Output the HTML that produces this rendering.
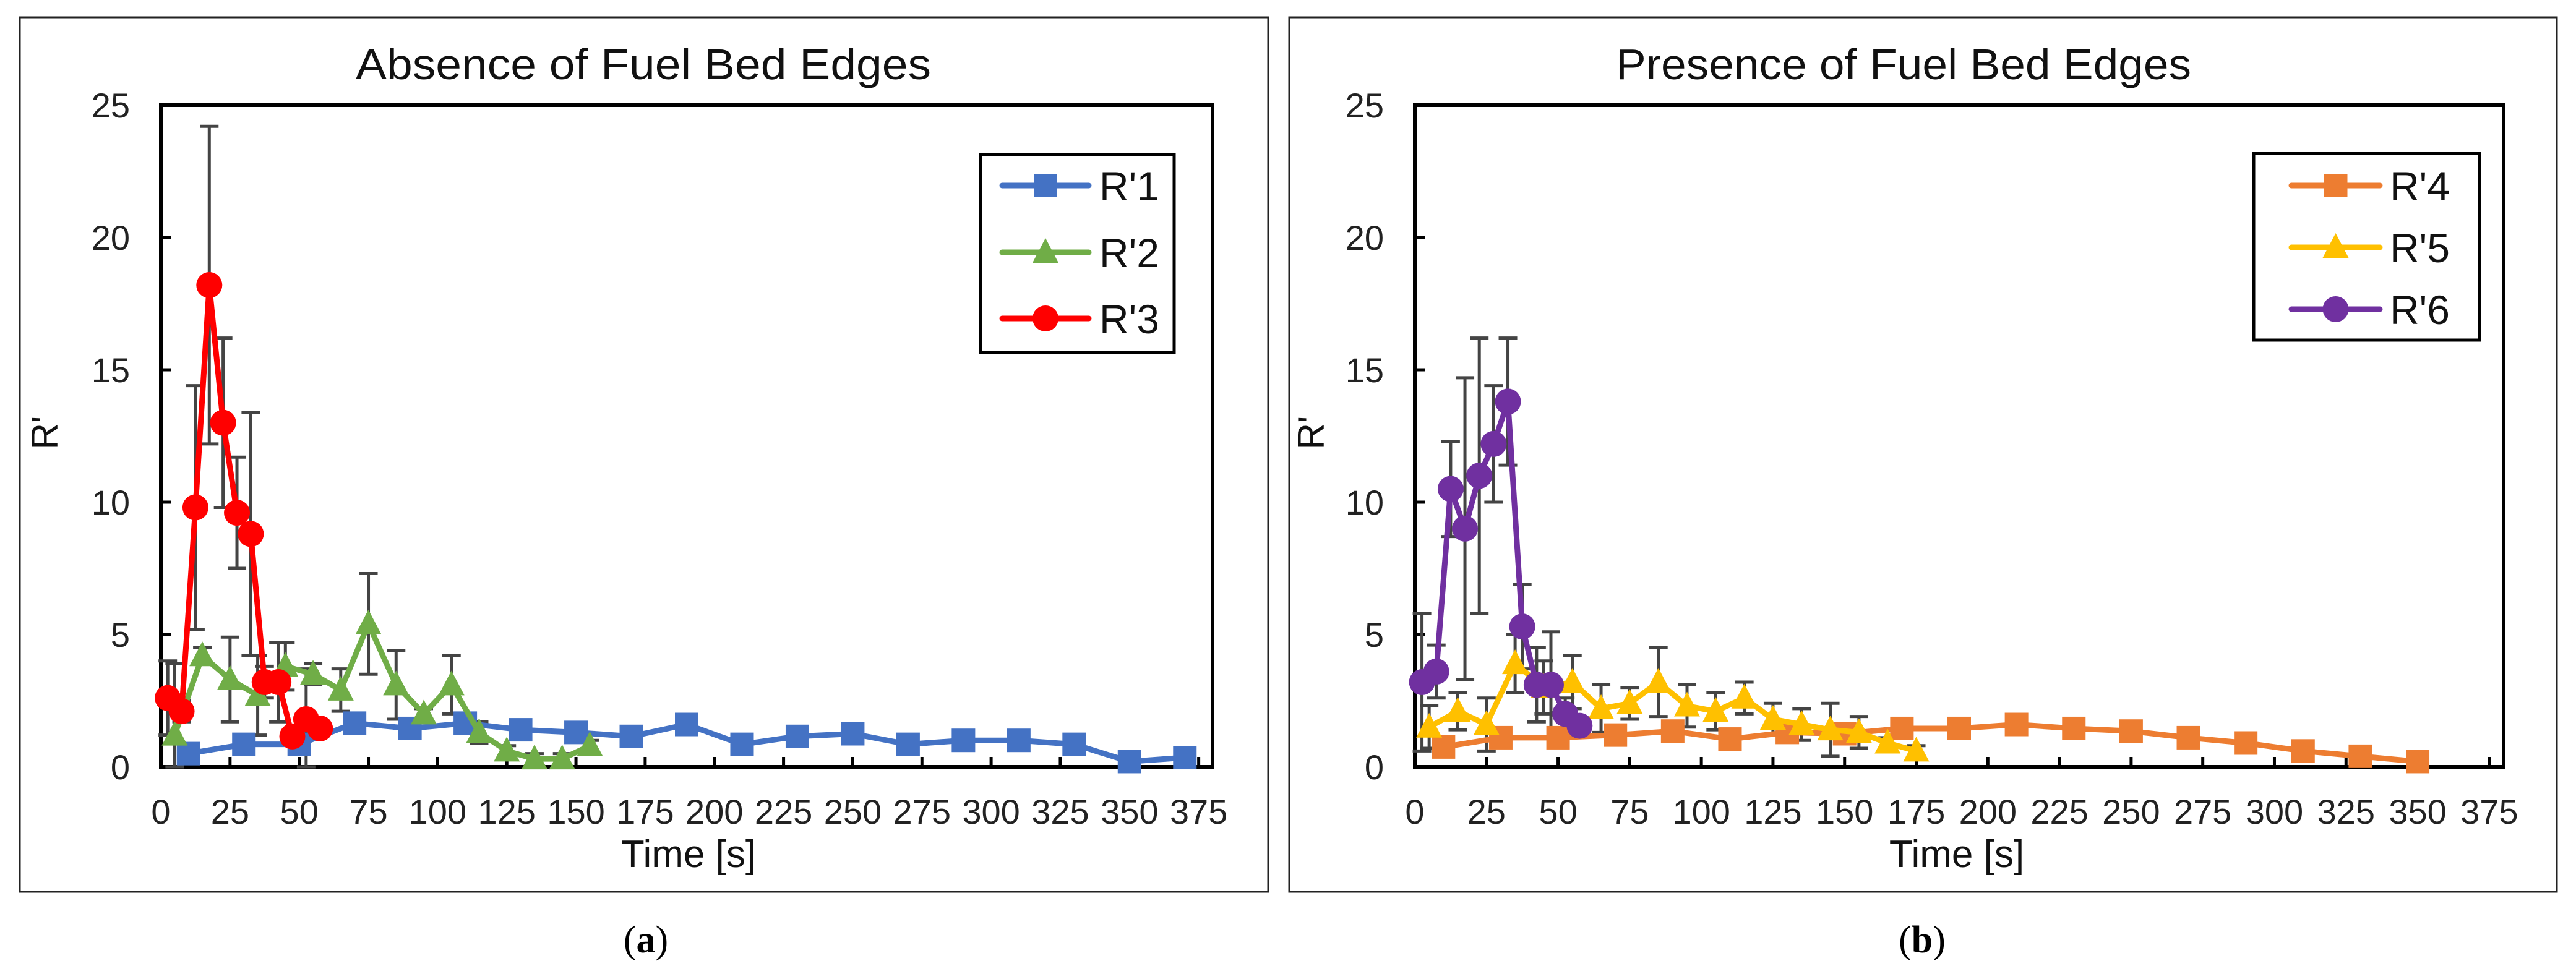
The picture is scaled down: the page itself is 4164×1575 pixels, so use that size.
<!DOCTYPE html>
<html><head><meta charset="utf-8"><style>
html,body{margin:0;padding:0;background:#fff;}
svg{display:block;font-family:"Liberation Sans",sans-serif;}
</style></head><body>
<svg id="fig" width="4164" height="1575" viewBox="0 0 4164 1575" xmlns="http://www.w3.org/2000/svg"></svg>
<script>
// ---- Panel (a) data ----
const tA1 = [10,30,50,70,90,110,130,150,170,190,210,230,250,270,290,310,330,350,370];
const vA1 = [0.5,0.85,0.85,1.65,1.45,1.65,1.4,1.3,1.15,1.6,0.85,1.15,1.25,0.85,1.0,1.0,0.85,0.2,0.35];
const eA1 = [0.2,0.2,0.2,0.2,0.2,0.2,0.2,0.2,0.2,0.2,0.2,0.2,0.2,0.2,0.2,0.2,0.2,0.2,0.2];
const tA2 = [5,15,25,35,45,55,65,75,85,95,105,115,125,135,145,155];
const vA2 = [1.2,4.2,3.3,2.7,3.8,3.5,2.9,5.4,3.1,2.0,3.1,1.3,0.6,0.3,0.3,0.8];
const eA2 = [2.7,0.3,1.6,1.5,0.9,0.4,0.8,1.9,1.3,0.2,1.1,0.4,0.2,0.2,0.2,0.2];
const tA3 = [2.5,7.5,12.5,17.5,22.5,27.5,32.5,37.5,42.5,47.5,52.5,57.5];
const vA3 = [2.6,2.1,9.8,18.2,13.0,9.6,8.8,3.2,3.2,1.15,1.8,1.45];
const eA3 = [1.4,0.4,4.6,6.0,3.2,2.1,4.6,0.6,1.5,0.3,1.9,0.3];
// ---- Panel (b) data ----
const tB4 = [10,30,50,70,90,110,130,150,170,190,210,230,250,270,290,310,330,350];
const vB4 = [0.75,1.1,1.1,1.2,1.35,1.05,1.3,1.25,1.45,1.45,1.6,1.45,1.35,1.1,0.9,0.6,0.4,0.2];
const eB4 = [0.2,0.2,0.2,0.2,0.2,0.2,0.2,0.2,0.2,0.2,0.2,0.2,0.2,0.2,0.2,0.2,0.2,0.2];
const tB5 = [5,15,25,35,45,55,65,75,85,95,105,115,125,135,145,155,165,175];
const vB5 = [1.5,2.1,1.6,3.9,3.0,3.2,2.2,2.4,3.2,2.3,2.1,2.6,1.8,1.6,1.4,1.3,0.9,0.6];
const eB5 = [0.8,0.7,1.0,1.1,1.0,1.0,0.9,0.6,1.3,0.8,0.7,0.6,0.6,0.6,1.0,0.6,0.2,0.2];
const tB6 = [2.5,7.5,12.5,17.5,22.5,27.5,32.5,37.5,42.5,47.5,52.5,57.5];
const vB6 = [3.2,3.6,10.5,9.0,11.0,12.2,13.8,5.3,3.1,3.1,2.0,1.55];
const eB6 = [2.6,1.0,1.8,5.7,5.2,2.2,2.4,1.6,1.4,2.0,0.6,0.3];
const xTicks = [0,25,50,75,100,125,150,175,200,225,250,275,300,325,350,375];
const yTicks = [0,5,10,15,20,25];
const X_MAX = 380, Y_MAX = 25;

const NS = "http://www.w3.org/2000/svg";
const svg = document.getElementById('fig');
function mk(tag, attrs, parent){
  const el = document.createElementNS(NS, tag);
  for (const k in attrs) el.setAttribute(k, attrs[k]);
  (parent||svg).appendChild(el);
  return el;
}

const panels = [
  {id:'a', frame:[32,28,2050,1442], plot:[260,170,1960,1240], title:'Absence of Fuel Bed Edges', titleX:1040,
   ytx:210, ylx:93, xlx:1113, lab:'a', labX:1044,
   legend:[1585,250,1898,570], legLine:[1620,1760], legText:1777, legY:[300,408,515],
   series:[
     {name:"R'1", t:tA1, v:vA1, e:eA1, color:'#4472C4', m:'square'},
     {name:"R'2", t:tA2, v:vA2, e:eA2, color:'#70AD47', m:'tri'},
     {name:"R'3", t:tA3, v:vA3, e:eA3, color:'#FF0000', m:'circle'}]},
  {id:'b', frame:[2084,28,4133,1442], plot:[2287,170,4047,1240], title:'Presence of Fuel Bed Edges', titleX:3077,
   ytx:2237, ylx:2140, xlx:3163, lab:'b', labX:3107,
   legend:[3643,248,4008,550], legLine:[3704,3847], legText:3863, legY:[300,400,500],
   series:[
     {name:"R'4", t:tB4, v:vB4, e:eB4, color:'#ED7D31', m:'square'},
     {name:"R'5", t:tB5, v:vB5, e:eB5, color:'#FFC000', m:'tri'},
     {name:"R'6", t:tB6, v:vB6, e:eB6, color:'#7030A0', m:'circle'}]}
];

function marker(g, type, x, y, color){
  let el;
  if (type==='square') el = mk('rect',{x:x-19,y:y-19,width:38,height:38,fill:color},g);
  else if (type==='circle') el = mk('circle',{cx:x,cy:y,r:21,fill:color},g);
  else el = mk('polygon',{points:`${x},${y-23} ${x+21},${y+17} ${x-21},${y+17}`,fill:color},g);
  return el;
}

panels.forEach(p=>{
  const [fx0,fy0,fx1,fy1] = p.frame;
  const fr = mk('rect',{x:fx0,y:fy0,width:fx1-fx0,height:fy1-fy0,fill:'none',stroke:'#222',"stroke-width":3});
  
  
  const [x0,y0,x1,y1] = p.plot;
  const sx = t => x0 + t/X_MAX*(x1-x0);
  const sy = v => y1 - v/Y_MAX*(y1-y0);

  const title = mk('text',{x:p.titleX,y:128,"font-size":70,"text-anchor":"middle",fill:'#111',textLength:930,lengthAdjust:'spacingAndGlyphs'});
  title.textContent = p.title;
  
  

  const pa = mk('rect',{x:x0,y:y0,width:x1-x0,height:y1-y0,fill:'none',stroke:'#000',"stroke-width":6});
  
  

  const ga = mk('g',{});
  
  
  xTicks.forEach(t=>{
    const x = sx(t);
    mk('line',{x1:x,y1:y1,x2:x,y2:y1-16,stroke:'#000',"stroke-width":5},ga);
    const tx = mk('text',{x:x,y:y1+92,"font-size":56,"text-anchor":"middle",fill:'#222'},ga);
    tx.textContent = t;
    
    
  });
  const gy = mk('g',{});
  
  
  yTicks.forEach(v=>{
    const y = sy(v);
    mk('line',{x1:x0,y1:y,x2:x0+16,y2:y,stroke:'#000',"stroke-width":5},gy);
    const tx = mk('text',{x:p.ytx,y:y+20,"font-size":56,"text-anchor":"end",fill:'#222'},gy);
    tx.textContent = v;
    
    
  });
  const yl = mk('text',{x:p.ylx,y:700,"font-size":60,"text-anchor":"middle",fill:'#111',transform:`rotate(-90 ${p.ylx} 700)`});
  yl.textContent = "R'";
  
  
  const xl = mk('text',{x:p.xlx,y:1402,"font-size":62,"text-anchor":"middle",fill:'#111'});
  xl.textContent = "Time [s]";
  
  
  const lb = mk('text',{x:p.labX,y:1540,"font-size":62,"text-anchor":"middle",fill:'#000',"font-family":'"Liberation Serif",serif'});
  
  
  lb.appendChild(document.createTextNode('('));
  const bt = mk('tspan',{"font-weight":'bold'},lb);
  bt.textContent = p.lab;
  lb.appendChild(document.createTextNode(')'));

  // error bars
  p.series.forEach(s=>{
    const g = mk('g',{});
    
    
    s.t.forEach((t,i)=>{
      const x = sx(t), ya = sy(s.v[i]+s.e[i]), yb = sy(Math.max(0,s.v[i]-s.e[i]));
      mk('line',{x1:x,y1:ya,x2:x,y2:yb,stroke:'#444',"stroke-width":5},g);
      mk('line',{x1:x-15,y1:ya,x2:x+15,y2:ya,stroke:'#444',"stroke-width":5},g);
      mk('line',{x1:x-15,y1:yb,x2:x+15,y2:yb,stroke:'#444',"stroke-width":5},g);
    });
  });
  // series
  p.series.forEach(s=>{
    const g = mk('g',{});
    
    
    const pts = s.t.map((t,i)=>sx(t)+','+sy(s.v[i])).join(' ');
    const pl = mk('polyline',{points:pts,fill:'none',stroke:s.color,"stroke-width":9,"stroke-linejoin":'round'},g);
    
    
    s.t.forEach((t,i)=>{
      const m = marker(g, s.m, sx(t), sy(s.v[i]), s.color);
      
      
    });
  });
  // legend
  const [lx0,ly0,lx1,ly1] = p.legend;
  const lg = mk('g',{});
  
  
  mk('rect',{x:lx0,y:ly0,width:lx1-lx0,height:ly1-ly0,fill:'#fff',stroke:'#000',"stroke-width":5},lg);
  p.series.forEach((s,i)=>{
    const y = p.legY[i];
    const e = mk('g',{},lg);
    
    
    mk('line',{x1:p.legLine[0],y1:y,x2:p.legLine[1],y2:y,stroke:s.color,"stroke-width":9,"stroke-linecap":'round'},e);
    marker(e, s.m, (p.legLine[0]+p.legLine[1])/2, y, s.color);
    const tx = mk('text',{x:p.legText,y:y+24,"font-size":66,fill:'#111'},e);
    tx.textContent = s.name;
  });
});
</script>
</body></html>
